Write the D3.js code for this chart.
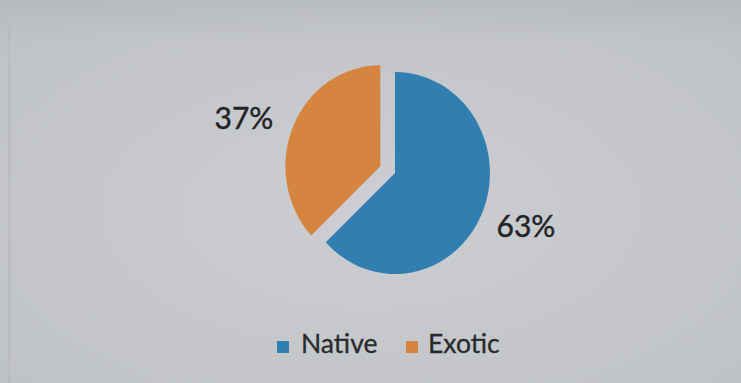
<!DOCTYPE html>
<html>
<head>
<meta charset="utf-8">
<script src="https://cdn.jsdelivr.net/npm/d3@7"></script>
<style>
  html, body { margin: 0; padding: 0; background: #c4c7ca; }
  svg { display: block; }
</style>
</head>
<body>
<svg id="chart" width="741" height="383"></svg>
<script>
// Share of species by origin
const categories = ["Native", "Exotic"];
const values = [63, 37];
const labels = ["63%", "37%"];
const colors = ["#307fb0", "#d5853f"];

const W = 741, H = 383;
const svg = d3.select("#chart");

// Soft screen-like backdrop
const defs = svg.append("defs");
const bg = defs.append("radialGradient").attr("id", "bg")
  .attr("cx", "50%").attr("cy", "55%").attr("r", "70%");
bg.append("stop").attr("offset", "0%").attr("stop-color", "#ccced1");
bg.append("stop").attr("offset", "100%").attr("stop-color", "#bfc2c5");
const topShade = defs.append("linearGradient").attr("id", "topShade")
  .attr("x1", 0).attr("y1", 0).attr("x2", 0).attr("y2", 1);
topShade.append("stop").attr("offset", "0%").attr("stop-color", "#a9acaf").attr("stop-opacity", 0.35);
topShade.append("stop").attr("offset", "100%").attr("stop-color", "#a9acaf").attr("stop-opacity", 0);

svg.append("rect").attr("width", W).attr("height", H).attr("fill", "url(#bg)");
svg.append("rect").attr("width", W).attr("height", 40).attr("fill", "url(#topShade)");
svg.append("line").attr("x1", 9.5).attr("x2", 9.5).attr("y1", 25).attr("y2", H)
  .attr("stroke", "#aeb1b4").attr("stroke-width", 1.5).attr("opacity", 0.6);

const data = categories.map((c, i) => ({ name: c, value: values[i], label: labels[i], color: colors[i] }));

const pie = d3.pie().sort(null).value(d => d.value).startAngle(0).endAngle(2 * Math.PI);
const r = 101;
const arc = d3.arc().innerRadius(0).outerRadius(r);
const arcs = pie(data);
const explode = 17;

const cx = 395, cy = 173, sx = 0.94;
const g = svg.append("g").attr("transform", `translate(${cx},${cy}) scale(${sx},1)`);

g.selectAll("path").data(arcs).join("path")
  .attr("d", arc)
  .attr("fill", d => d.data.color)
  .attr("transform", d => {
    if (d.data.name !== "Exotic") return null;
    const a = (d.startAngle + d.endAngle) / 2;
    return `translate(${explode * Math.sin(a)},${-explode * Math.cos(a)})`;
  });

// Percentage labels placed outside the slices
const labelPos = { "Native": [526, 237], "Exotic": [244, 129] };
svg.selectAll("text.pct").data(arcs).join("text")
  .attr("class", "pct")
  .attr("x", d => labelPos[d.data.name][0])
  .attr("y", d => labelPos[d.data.name][1])
  .attr("text-anchor", "middle")
  .attr("font-family", "Lato, 'Open Sans', sans-serif")
  .attr("font-size", 30)
  .attr("fill", "#232426")
  .attr("stroke", "#232426")
  .attr("stroke-width", 0.4)
  .text(d => d.data.label);

// Legend
const legendItems = [
  { x: 277, tx: 301 },
  { x: 406, tx: 428 }
];
const lg = svg.append("g");
data.forEach((d, i) => {
  lg.append("rect").attr("x", legendItems[i].x).attr("y", 341).attr("width", 12).attr("height", 12)
    .attr("fill", d.color);
  lg.append("text").attr("x", legendItems[i].tx).attr("y", 353)
    .attr("font-family", "Lato, 'Open Sans', sans-serif")
    .attr("font-size", 26.5)
    .attr("fill", "#292a2c")
    .attr("stroke", "#292a2c")
    .attr("stroke-width", 0.3)
    .text(d.name);
});
</script>
</body>
</html>
